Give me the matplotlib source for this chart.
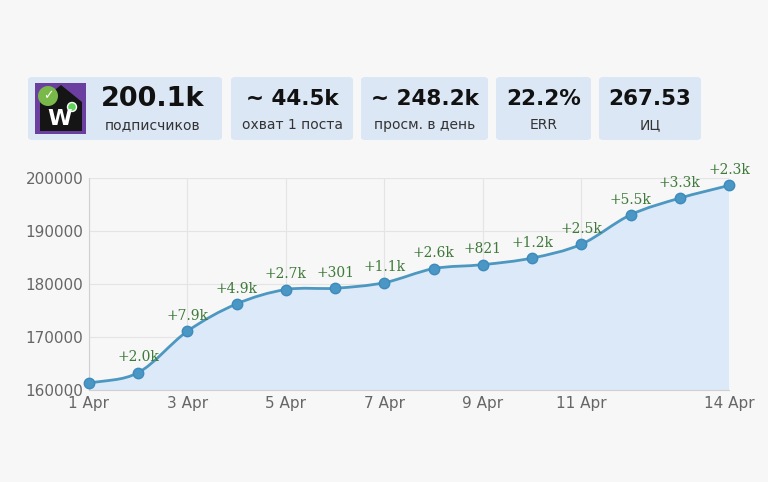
import matplotlib.pyplot as plt
from matplotlib.patches import FancyBboxPatch, Rectangle, Polygon, Circle
from matplotlib.path import Path
from matplotlib.patches import PathPatch

days = [1, 2, 3, 4, 5, 6, 7, 8, 9, 10, 11, 12, 13, 14]
subscribers = [161260, 163280, 171100, 176250, 178960, 179200, 180250,
               182900, 183650, 184900, 187500, 193050, 196200, 198600]
growth_labels = ["", "+2.0k", "+7.9k", "+4.9k", "+2.7k", "+301", "+1.1k",
                 "+2.6k", "+821", "+1.2k", "+2.5k", "+5.5k", "+3.3k", "+2.3k"]
tick_days = [1, 3, 5, 7, 9, 11, 14]
tick_labels = ["1 Apr", "3 Apr", "5 Apr", "7 Apr", "9 Apr", "11 Apr", "14 Apr"]

card_values = ["200.1k", "~ 44.5k", "~ 248.2k", "22.2%", "267.53"]
card_captions = ["подписчиков", "охват 1 поста", "просм. в день", "ERR", "ИЦ"]

W, H = 768, 482
bg = "#f7f7f7"
line_color = "#4d98c0"
fill_color = "#dce9f8"
label_color = "#3f7a3a"

fig = plt.figure(figsize=(W / 100, H / 100), dpi=100, facecolor=bg)


def fx(px):
    return px / W


def fy(py):
    return 1 - py / H


# stat cards (pixel boxes: left, right)
cards = [(28, 222), (231, 353), (361, 488), (496, 591), (599, 701)]
for i, (l, r) in enumerate(cards):
    box = FancyBboxPatch((fx(l), fy(140)), fx(r - l), (140 - 77) / H,
                         boxstyle="round,pad=0,rounding_size=0.006",
                         transform=fig.transFigure, facecolor="#dce7f5",
                         edgecolor="none", zorder=-1)
    fig.patches.append(box)
    cx = (l + r) / 2
    size = 15.5
    if i == 0:
        cx = 153
        size = 19.5
    fig.text(fx(cx), fy(99), card_values[i], ha="center", va="center",
             fontsize=size, fontweight="bold", color="#111111")
    fig.text(fx(cx), fy(125), card_captions[i], ha="center", va="center",
             fontsize=10, color="#333333")

# channel icon
iax = fig.add_axes([fx(35), fy(134), fx(51), (134 - 83) / H], zorder=3)
iax.set_xlim(0, 51)
iax.set_ylim(0, 51)
iax.axis("off")
iax.add_patch(Rectangle((0, 0), 51, 51, facecolor="#6b3fa0", edgecolor="none"))
iax.add_patch(Polygon([(5, 3), (5, 32), (26, 49), (47, 32), (47, 3)],
                      facecolor="#151515", edgecolor="none"))
iax.text(25, 15, "W", ha="center", va="center", fontsize=16,
         fontweight="bold", color="white")
iax.add_patch(Circle((13, 38), 10, facecolor="#79b94a", edgecolor="none"))
iax.text(13, 38, "✓", ha="center", va="center", fontsize=9,
         color="white", fontweight="bold")
iax.add_patch(Circle((37, 27), 4.5, facecolor="#5fd35a", edgecolor="white",
                     linewidth=1))

# chart
ax = fig.add_axes([fx(89), fy(390), fx(729 - 89), (390 - 178) / H])
ax.set_facecolor(bg)

# smooth line through the points as cubic bezier segments
verts = [(days[0], subscribers[0])]
codes = [Path.MOVETO]
n = len(days)
slopes = []
for i in range(n):
    if i == 0:
        s = (subscribers[1] - subscribers[0]) / (days[1] - days[0])
    elif i == n - 1:
        s = (subscribers[-1] - subscribers[-2]) / (days[-1] - days[-2])
    else:
        s = (subscribers[i + 1] - subscribers[i - 1]) / (days[i + 1] - days[i - 1])
    slopes.append(s)
for i in range(n - 1):
    dx = (days[i + 1] - days[i]) / 3
    verts += [(days[i] + dx, subscribers[i] + slopes[i] * dx),
              (days[i + 1] - dx, subscribers[i + 1] - slopes[i + 1] * dx),
              (days[i + 1], subscribers[i + 1])]
    codes += [Path.CURVE4] * 3

fill_verts = verts + [(days[-1], 160000), (days[0], 160000), verts[0]]
fill_codes = codes + [Path.LINETO, Path.LINETO, Path.CLOSEPOLY]
ax.add_patch(PathPatch(Path(fill_verts, fill_codes), facecolor=fill_color,
                       edgecolor="none", zorder=1))
ax.add_patch(PathPatch(Path(verts, codes), facecolor="none",
                       edgecolor=line_color, linewidth=2, zorder=2))
ax.plot(days, subscribers, "o", color="#4a96c4", markersize=7.5,
        markeredgecolor="#3d8bbd", zorder=3, clip_on=False)

for d, v, lab in zip(days, subscribers, growth_labels):
    if lab:
        ax.annotate(lab, (d, v), xytext=(0, 6), textcoords="offset points",
                    ha="center", va="bottom", fontsize=10, color=label_color,
                    family="DejaVu Serif", clip_on=False, zorder=4)

ax.set_xlim(1, 14)
ax.set_ylim(160000, 200000)
ax.set_xticks(tick_days)
ax.set_xticklabels(tick_labels)
ax.set_yticks([160000, 170000, 180000, 190000, 200000])
ax.grid(True, color="#e4e4e4", linewidth=0.8)
ax.set_axisbelow(True)
ax.tick_params(length=0, labelsize=11, colors="#666666", pad=4)
for side in ["top", "right"]:
    ax.spines[side].set_visible(False)
for side in ["left", "bottom"]:
    ax.spines[side].set_color("#d0d0d0")

fig.savefig("out.png", dpi=100, facecolor=bg)
